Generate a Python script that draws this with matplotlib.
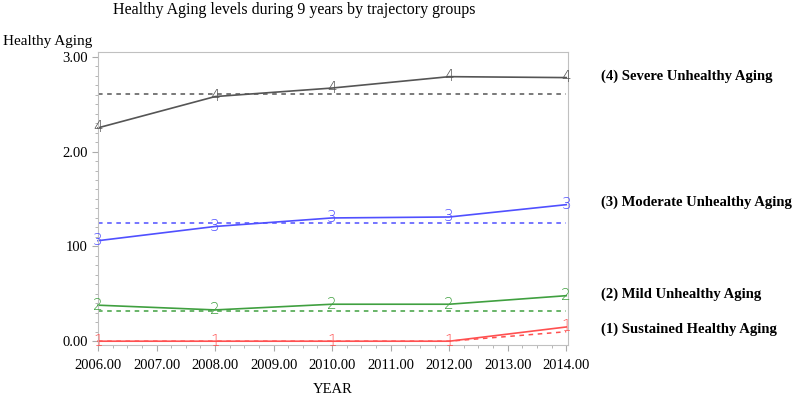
import numpy as np
import matplotlib.pyplot as plt
from matplotlib.ticker import MultipleLocator

# Data
years = [2006, 2008, 2010, 2012, 2014]
group_labels = ['1', '2', '3', '4']
group_names = ['(1) Sustained Healthy Aging', '(2) Mild Unhealthy Aging',
               '(3) Moderate Unhealthy Aging', '(4) Severe Unhealthy Aging']
observed = {
    '1': [0.00, 0.00, 0.00, 0.00, 0.15],
    '2': [0.38, 0.33, 0.39, 0.39, 0.48],
    '3': [1.06, 1.21, 1.30, 1.31, 1.44],
    '4': [2.25, 2.58, 2.67, 2.79, 2.78],
}
predicted = {
    '1': [0.00, 0.00, 0.00, 0.00, 0.10],
    '2': [0.32, 0.32, 0.32, 0.32, 0.32],
    '3': [1.25, 1.25, 1.25, 1.25, 1.25],
    '4': [2.61, 2.61, 2.61, 2.61, 2.61],
}
name_y = [0.13, 0.49, 1.47, 2.79]
colors = {'1': '#ff5050', '2': '#40a040', '3': '#5050ff', '4': '#555555'}
yticks = [0, 1, 2, 3]
yticklabels = ['0.00', '100', '2.00', '3.00']
xticks = list(range(2006, 2015))
xticklabels = [f'{x}.00' for x in xticks]

plt.rcParams['font.family'] = ['Liberation Serif', 'DejaVu Serif']

fig = plt.figure(figsize=(7.94, 3.98), dpi=100)
ax = fig.add_axes([98 / 794, 1 - 345 / 398, 470 / 794, 293 / 398])

for g in group_labels:
    c = colors[g]
    ax.plot(years, predicted[g], color=c, lw=1.1, ls=(0, (3, 3)))
    ax.plot(years, observed[g], color=c, lw=1.2, clip_on=False)
    for x, y in zip(years, observed[g]):
        ax.text(x, y, g, color=c, fontsize=11, ha='center', va='center',
                family='DejaVu Sans', fontweight='light')

for name, y in zip(group_names, name_y):
    ax.text(1.07, y, name, transform=ax.get_yaxis_transform(),
            fontsize=10.5, fontweight='bold', va='center', ha='left')

ax.set_xlim(2006, 2014.03)
ax.set_ylim(-0.04, 3.05)
ax.set_xticks(xticks)
ax.set_xticklabels(xticklabels)
ax.set_yticks(yticks)
ax.set_yticklabels(yticklabels)
ax.xaxis.set_minor_locator(MultipleLocator(0.25))
ax.yaxis.set_minor_locator(MultipleLocator(0.1))
ax.tick_params(which='both', direction='out', color='#aaaaaa', labelsize=10.5)
ax.tick_params(which='major', length=4)
ax.tick_params(which='minor', length=2)
ax.tick_params(axis='x', pad=6)
for sp in ax.spines.values():
    sp.set_color('#c0c0c0')

ax.set_xlabel('YEAR', fontsize=10.5, labelpad=8)
fig.text(3 / 794, 1 - 42 / 398, 'Healthy Aging', fontsize=11, va='center', ha='left')
fig.text(294 / 794, 1 - 10 / 398, 'Healthy Aging levels during 9 years by trajectory groups',
         fontsize=11.5, va='center', ha='center')

fig.savefig('out.png', dpi=100)
